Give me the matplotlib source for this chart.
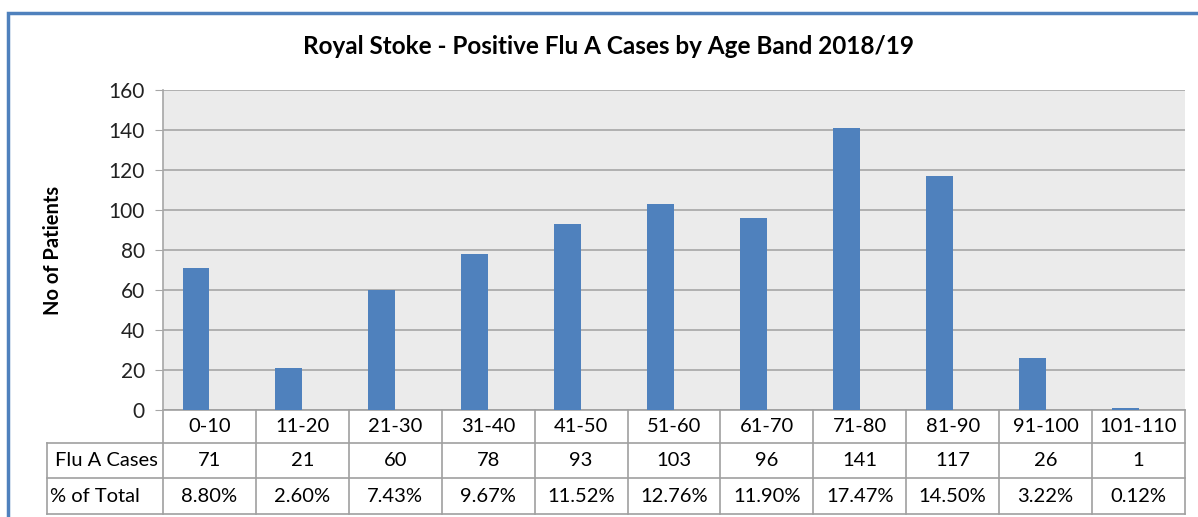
import numpy as np
import matplotlib
matplotlib.use("Agg")
import matplotlib.pyplot as plt
from matplotlib.patches import Rectangle
from matplotlib.transforms import blended_transform_factory

plt.rcParams['font.family'] = ['Lato', 'DejaVu Sans']

age_bands = ["0-10", "11-20", "21-30", "31-40", "41-50", "51-60",
             "61-70", "71-80", "81-90", "91-100", "101-110"]
flu_a_cases = [71, 21, 60, 78, 93, 103, 96, 141, 117, 26, 1]
pct_total = ["8.80%", "2.60%", "7.43%", "9.67%", "11.52%", "12.76%",
             "11.90%", "17.47%", "14.50%", "3.22%", "0.12%"]
row_labels = ["Flu A Cases", "% of Total"]

BAR = "#4F81BD"
GRID = "#A6A6A6"
LINE = "#A0A0A0"

W, H = 1198, 517
fig = plt.figure(figsize=(W / 100, H / 100), dpi=100)

# blue chart border (top + left visible)
fig.patches.append(Rectangle((8 / W, -0.1), 1.2, 1 - 12.5 / H + 0.1,
                             transform=fig.transFigure, fill=False,
                             edgecolor="#4F81BD", lw=2.5))

ax = fig.add_axes([163 / W, 1 - 410 / H, 1022 / W, 320 / H])
ax.set_facecolor("#EBEBEB")

n = len(age_bands)
x = np.arange(n)
ax.bar(x - 0.145, flu_a_cases, width=0.29, color=BAR, zorder=3)

ax.set_xlim(-0.5, n - 0.5)
ax.set_ylim(0, 160)
ax.set_yticks(range(0, 161, 20))
ax.yaxis.grid(True, color=GRID, lw=1.2, zorder=0)
ax.set_xticks([])
ax.tick_params(axis="y", length=6, color=GRID, labelsize=15, pad=7,
               labelcolor="#222222")
for s in ["top", "right", "bottom"]:
    ax.spines[s].set_visible(False)
ax.spines["left"].set_color(GRID)
ax.spines["left"].set_linewidth(1.2)

ax.set_ylabel("No of Patients", fontsize=14.5, fontweight="bold", labelpad=33)
fig.text(0.508, 1 - 47 / H, "Royal Stoke - Positive Flu A Cases by Age Band 2018/19",
         ha="center", va="center", fontsize=17.5, fontweight="bold")

# data table under the axis
tr = blended_transform_factory(ax.transData, ax.transAxes)
row_y = [0, -33 / 320, -68 / 320, -104 / 320]
label_left = (47 - 163) / 1022

kw = dict(color=LINE, lw=1.2, clip_on=False)
# horizontal lines
ax.plot([-0.5, n - 0.5], [row_y[0]] * 2, transform=tr, **kw)
ax.plot([label_left, 1], [row_y[1]] * 2, transform=ax.transAxes, **kw)
ax.plot([label_left, 1], [row_y[2]] * 2, transform=ax.transAxes, **kw)
ax.plot([label_left, 1], [row_y[3]] * 2, transform=ax.transAxes, **kw)
# vertical lines
for b in np.arange(n + 1) - 0.5:
    ax.plot([b, b], [row_y[0], row_y[3]], transform=tr, **kw)
ax.plot([label_left] * 2, [row_y[1], row_y[3]], transform=ax.transAxes, **kw)

fs = 14.5
for i in range(n):
    ax.text(i, (row_y[0] + row_y[1]) / 2, age_bands[i], transform=tr,
            ha="center", va="center", fontsize=fs)
    ax.text(i, (row_y[1] + row_y[2]) / 2, str(flu_a_cases[i]), transform=tr,
            ha="center", va="center", fontsize=fs)
    ax.text(i, (row_y[2] + row_y[3]) / 2, pct_total[i], transform=tr,
            ha="center", va="center", fontsize=fs)

ax.text(label_left + 0.008, (row_y[1] + row_y[2]) / 2, row_labels[0],
        transform=ax.transAxes, ha="left", va="center", fontsize=fs)
ax.text(label_left + 0.003, (row_y[2] + row_y[3]) / 2, row_labels[1],
        transform=ax.transAxes, ha="left", va="center", fontsize=fs)

plt.savefig("out.png", dpi=100)
